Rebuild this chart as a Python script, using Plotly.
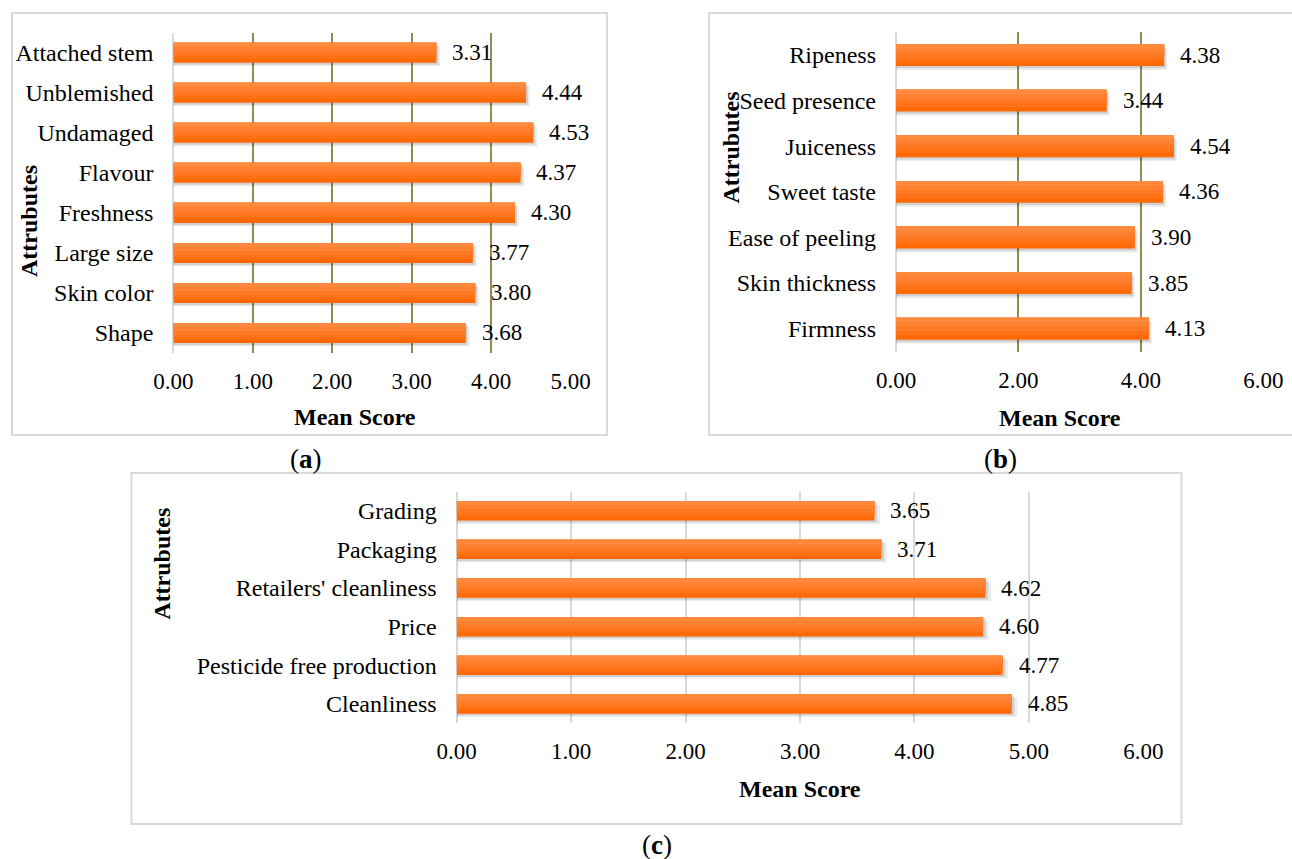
import plotly.graph_objects as go

W, H = 1292, 859

# ---------------- data ----------------
cats_a = ["Attached stem", "Unblemished", "Undamaged", "Flavour", "Freshness",
          "Large size", "Skin color", "Shape"]
vals_a = [3.31, 4.44, 4.53, 4.37, 4.30, 3.77, 3.80, 3.68]

cats_b = ["Ripeness", "Seed presence", "Juiceness", "Sweet taste", "Ease of peeling",
          "Skin thickness", "Firmness"]
vals_b = [4.38, 3.44, 4.54, 4.36, 3.90, 3.85, 4.13]

cats_c = ["Grading", "Packaging", "Retailers' cleanliness", "Price",
          "Pesticide free production", "Cleanliness"]
vals_c = [3.65, 3.71, 4.62, 4.60, 4.77, 4.85]

ticks_a = [0, 1, 2, 3, 4, 5]
ticks_b = [0, 2, 4, 6]
ticks_c = [0, 1, 2, 3, 4, 5, 6]

FONT = "Liberation Serif, Times New Roman, serif"
FS = 23
FS_CAT = 24


def px(x):
    return x / W


def py(y):
    return 1 - y / H


fig = go.Figure()

panels = [
    dict(cats=cats_a, vals=vals_a, ticks=ticks_a, rng=[0, 5], w=0.5,
         xd=[173.4, 570.5], yd=[32.7, 353.0], grid="#948a54", ax=""),
    dict(cats=cats_b, vals=vals_b, ticks=ticks_b, rng=[0, 6], w=0.48,
         xd=[896.0, 1263.3], yd=[32.2, 351.5], grid="#948a54", ax="2"),
    dict(cats=cats_c, vals=vals_c, ticks=ticks_c, rng=[0, 6], w=0.5,
         xd=[456.7, 1143.3], yd=[491.5, 723.3], grid="#d9d9d9", ax="3"),
]

bands = [(1.0, "#ff6a06"), (0.8, "#ff7216"), (0.6, "#ff7a26"), (0.4, "#ff8232"), (0.2, "#ff8a3e")]

annotations = []
for p in panels:
    xa, ya = "x" + p["ax"], "y" + p["ax"]
    w = p["w"]
    # soft shadows
    for dx, dy, col in [(0.05, 0.09, "rgba(0,0,0,0.07)"), (0.025, 0.05, "rgba(0,0,0,0.12)")]:
        fig.add_trace(go.Bar(
            x=[v + dx for v in p["vals"]], y=p["cats"], orientation="h",
            width=w, offset=-w / 2 + dy, marker=dict(color=col, line=dict(width=0)),
            xaxis=xa, yaxis=ya, showlegend=False, hoverinfo="skip"))
    # gradient bands (top lighter)
    for f, col in bands:
        fig.add_trace(go.Bar(
            x=p["vals"], y=p["cats"], orientation="h",
            width=w * f, offset=-w / 2, marker=dict(color=col, line=dict(width=0)),
            xaxis=xa, yaxis=ya, showlegend=False, hoverinfo="skip"))
    for c, v in zip(p["cats"], p["vals"]):
        annotations.append(dict(x=v, y=c, xref=xa, yref=ya, text=f"{v:.2f}",
                                showarrow=False, xanchor="left", yanchor="middle",
                                xshift=14, font=dict(family=FONT, size=FS, color="#000")))

layout_axes = {}
for p in panels:
    k = p["ax"]
    xname = "xaxis" + k
    yname = "yaxis" + k
    layout_axes[xname] = dict(
        domain=[px(p["xd"][0]), px(p["xd"][1])], range=p["rng"], anchor="y" + k,
        tickvals=p["ticks"], tickformat=".2f", showgrid=True, gridcolor=p["grid"],
        gridwidth=1.6, zeroline=True, zerolinecolor="#d9d9d9", zerolinewidth=2.2,
        showline=False, ticks="", ticklabelstandoff=12, automargin=False,
        tickfont=dict(family=FONT, size=FS, color="#000"), fixedrange=True)
    layout_axes[yname] = dict(
        domain=[py(p["yd"][1]), py(p["yd"][0])], anchor="x" + k,
        categoryorder="array", categoryarray=p["cats"], autorange="reversed",
        showgrid=False, zeroline=False, showline=False, ticks="",
        ticklabelstandoff=19, automargin=False,
        tickfont=dict(family=FONT, size=FS_CAT, color="#000"), fixedrange=True)

# axis titles
for (x, y) in [(355, 417), (1060, 418), (800, 789)]:
    annotations.append(dict(x=px(x), y=py(y), xref="paper", yref="paper",
                            text="<b>Mean Score</b>", showarrow=False,
                            xanchor="center", yanchor="middle",
                            font=dict(family=FONT, size=FS_CAT, color="#000")))
for (x, y) in [(29, 221), (730, 147.5), (161.7, 564)]:
    annotations.append(dict(x=px(x), y=py(y), xref="paper", yref="paper",
                            text="<b>Attrubutes</b>", showarrow=False, textangle=-90,
                            xanchor="center", yanchor="middle",
                            font=dict(family=FONT, size=FS_CAT, color="#000")))
# panel captions
for (x, y, t) in [(306, 459, "a"), (1000, 459, "b"), (657, 845, "c")]:
    annotations.append(dict(x=px(x), y=py(y), xref="paper", yref="paper",
                            text=f"(<b>{t}</b>)", showarrow=False,
                            xanchor="center", yanchor="middle",
                            font=dict(family=FONT, size=27, color="#000")))

shapes = []
for (x0, y0, x1, y1) in [(12, 13, 607, 435), (709, 13, 1310, 435), (131.5, 473, 1181.5, 824)]:
    shapes.append(dict(type="rect", xref="paper", yref="paper",
                       x0=px(x0), y0=py(y0), x1=px(x1), y1=py(y1),
                       line=dict(color="#d9d9d9", width=2), fillcolor="rgba(0,0,0,0)",
                       layer="below"))

fig.update_layout(
    width=W, height=H, margin=dict(l=0, r=0, t=0, b=0, autoexpand=False),
    paper_bgcolor="white", plot_bgcolor="white",
    barmode="overlay", showlegend=False,
    annotations=annotations, shapes=shapes,
    font=dict(family=FONT, size=FS, color="#000"),
    **layout_axes)

fig.write_html(
    "out.html",
    config={"displayModeBar": False},
    post_script="document.body.style.margin='0';document.body.style.padding='0';"
                "document.body.style.overflow='hidden';"
                "document.documentElement.style.overflow='hidden';")
